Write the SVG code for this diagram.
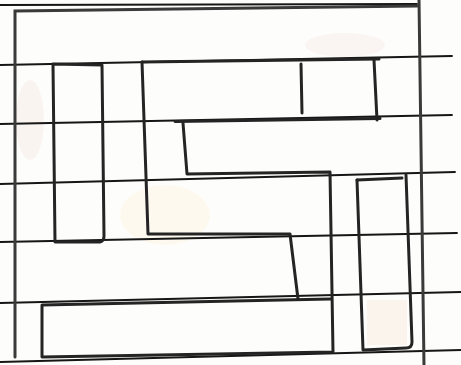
<svg xmlns="http://www.w3.org/2000/svg" width="461" height="365" viewBox="0 0 461 365">
  <style>
    .rule { stroke: #161616; stroke-width: 1.8; fill: none; stroke-linecap: round; }
    .pen { stroke: #242424; stroke-width: 3; fill: none; stroke-linecap: round; stroke-linejoin: round; }
    .frame { stroke: #3a3a3a; stroke-width: 3; fill: none; stroke-linecap: round; }
    .stain { stroke: none; }
  </style>
  <rect x="0" y="0" width="461" height="365" fill="#fdfdfb"/>
  <g id="stains" opacity="0.3">
    <ellipse class="stain" cx="165" cy="215" rx="45" ry="30" fill="#fdf3d6"/>
    <ellipse class="stain" cx="345" cy="45" rx="40" ry="12" fill="#f5e2e2"/>
    <rect class="stain" x="367" y="300" width="40" height="45" fill="#f4e0cc"/>
    <ellipse class="stain" cx="30" cy="120" rx="14" ry="40" fill="#f5e0dc"/>
  </g>
  <g id="ruled-lines">
    <line class="rule" x1="0" y1="5" x2="417" y2="4"/>
    <line class="rule" x1="0" y1="65" x2="452" y2="56"/>
    <line class="rule" x1="0" y1="124" x2="452" y2="115"/>
    <line class="rule" x1="0" y1="184" x2="455" y2="172"/>
    <line class="rule" x1="0" y1="242" x2="457" y2="233"/>
    <line class="rule" x1="0" y1="303" x2="461" y2="292"/>
    <line class="rule" x1="0" y1="362" x2="461" y2="350"/>
  </g>
  <g id="frame">
    <path class="frame" d="M15,357 L15,11 L417,6"/>
    <path class="frame" d="M419,0 L424,365"/>
  </g>
  <g id="narrow-rect">
    <path class="pen" d="M53,64 L55,242 L100,242 Q104,241 104,236 L102,65 L53,64"/>
  </g>
  <g id="top-block">
    <path class="pen" d="M142,62 L379,59"/>
    <path class="pen" d="M374,60 L377,120"/>
    <path class="pen" d="M175,121.5 L380,118.5"/>
    <path class="pen" d="M301,64 L302,113" stroke-width="2.2"/>
  </g>
  <g id="step-shape">
    <path class="pen" d="M142,62 L148,234 L290,234 L298,299"/>
  </g>
  <g id="l-shape">
    <path class="pen" d="M183,123 L187,174 L330,172 L333,352 L42,357 L42,305 L330,299"/>
  </g>
  <g id="right-rect">
    <path class="pen" d="M357,180 L402,178"/>
    <path class="pen" d="M406,175 L412,342 Q412,348 406,348 L363,350 L357,180"/>
  </g>
</svg>
